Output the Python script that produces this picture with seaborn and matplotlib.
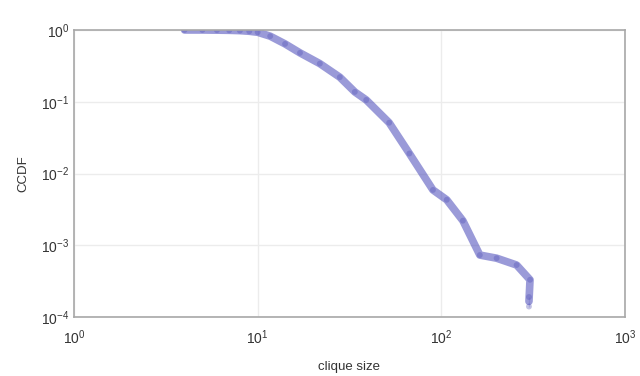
import matplotlib
matplotlib.use("Agg")
import matplotlib.pyplot as plt
import pandas as pd
import seaborn as sns

# values (log-log CCDF of clique sizes)
clique_size = [4, 5, 6, 7, 8, 9, 10, 11.7, 14.1, 17, 21.8, 28, 33.8, 39, 52,
               67, 90, 107, 131, 162, 200, 257, 304, 300, 300]
ccdf = [1.0, 1.0, 0.995, 0.99, 0.98, 0.96, 0.93, 0.82, 0.64, 0.48, 0.34,
        0.22, 0.137, 0.106, 0.051, 0.019, 0.0059, 0.0043, 0.0022, 7.3e-4,
        6.6e-4, 5.3e-4, 3.3e-4, 1.9e-4, 1.4e-4]

df = pd.DataFrame({"clique size": clique_size, "CCDF": ccdf})

sns.set_theme(style="whitegrid")
plt.rcParams["font.family"] = ["Liberation Sans", "DejaVu Sans"]

fig = plt.figure(figsize=(6.4, 3.76), dpi=100)
ax = fig.add_axes([74 / 640, 1 - 317 / 376, (625 - 74) / 640, (317 - 30) / 376])

sns.lineplot(data=df, x="clique size", y="CCDF", ax=ax, sort=False,
             color="#4848b8", linewidth=5.5, alpha=0.55)
sns.scatterplot(data=df, x="clique size", y="CCDF", ax=ax,
                color="#3a3aa8", s=18, alpha=0.3, edgecolor="none")

ax.set_xscale("log")
ax.set_yscale("log")
ax.set_xlim(1, 1000)
ax.set_ylim(1e-4, 1)
ax.set_xticks([1, 10, 100, 1000])
ax.set_yticks([1e-4, 1e-3, 1e-2, 1e-1, 1])

ax.grid(True, which="major", color="#ececec", linewidth=1)
ax.grid(False, which="minor")
for sp in ax.spines.values():
    sp.set_color("#a8a8a8")
    sp.set_linewidth(1.2)
ax.tick_params(which="both", direction="in", colors="#555555",
               labelsize=10, length=3, labelcolor="#333333")
ax.tick_params(axis="x", pad=8)
ax.tick_params(which="minor", length=1.5)

ax.set_xlabel("clique size", fontsize=9.5, color="#333333", labelpad=10)
ax.set_ylabel("CCDF", fontsize=9.5, color="#333333", labelpad=8)

fig.savefig("out.png", dpi=100)
